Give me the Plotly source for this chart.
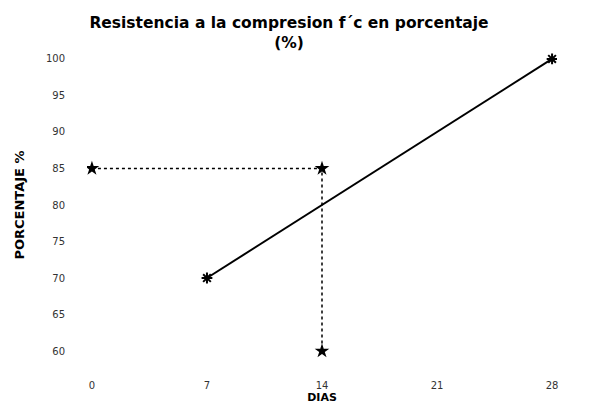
import plotly.graph_objects as go

dias_tick = [0, 7, 14, 21, 28]
pct_tick = [60, 65, 70, 75, 80, 85, 90, 95, 100]

linea_dias = [7, 28]
linea_pct = [70, 100]

ref_dias = [0, 14, 14]
ref_pct = [85, 85, 60]

font = "DejaVu Sans"
W, H = 589, 397  # page body has an 8px margin
fig = go.Figure()
fig.add_trace(go.Scatter(
    x=ref_dias, y=ref_pct, mode="lines+markers",
    line=dict(color="black", width=1.5, dash="dot"),
    marker=dict(symbol="star", size=11, color="black"),
    showlegend=False))
fig.add_trace(go.Scatter(
    x=linea_dias, y=linea_pct, mode="lines+markers",
    line=dict(color="black", width=2),
    marker=dict(symbol="asterisk", size=9, color="black", line=dict(color="black", width=2)),
    showlegend=False))

fig.update_layout(
    width=W, height=H,
    paper_bgcolor="white", plot_bgcolor="white",
    margin=dict(l=79, r=40, t=40, b=43, autoexpand=False),
    font=dict(family=font, color="black", size=11),
    title=dict(text="<b>Resistencia a la compresion f´c en porcentaje<br>(%)</b>",
               x=281/W, xanchor="center", yref="container", y=1 - 19.5/H, yanchor="middle",
               automargin=False,
               font=dict(size=15.5, family=font, color="black")),
    xaxis=dict(range=[-0.3, 28.3], tickvals=dias_tick, ticktext=[str(v) for v in dias_tick],
               showgrid=False, zeroline=False, showline=False, ticks="",
               ticklabelstandoff=16, automargin=False,
               tickfont=dict(size=10, color="#333"),
               title=dict(text="<b>DIAS</b>", standoff=0, font=dict(size=11, color="black"))),
    yaxis=dict(range=[58.5, 101.5], tickvals=pct_tick, ticktext=[str(v) for v in pct_tick],
               showgrid=False, zeroline=False, showline=False, ticks="",
               ticklabelstandoff=21, automargin=False,
               tickfont=dict(size=10, color="#333"),
               title=dict(text="<b>PORCENTAJE %</b>", standoff=18, font=dict(size=13, color="black"))),
)
fig.write_html("out.html")
